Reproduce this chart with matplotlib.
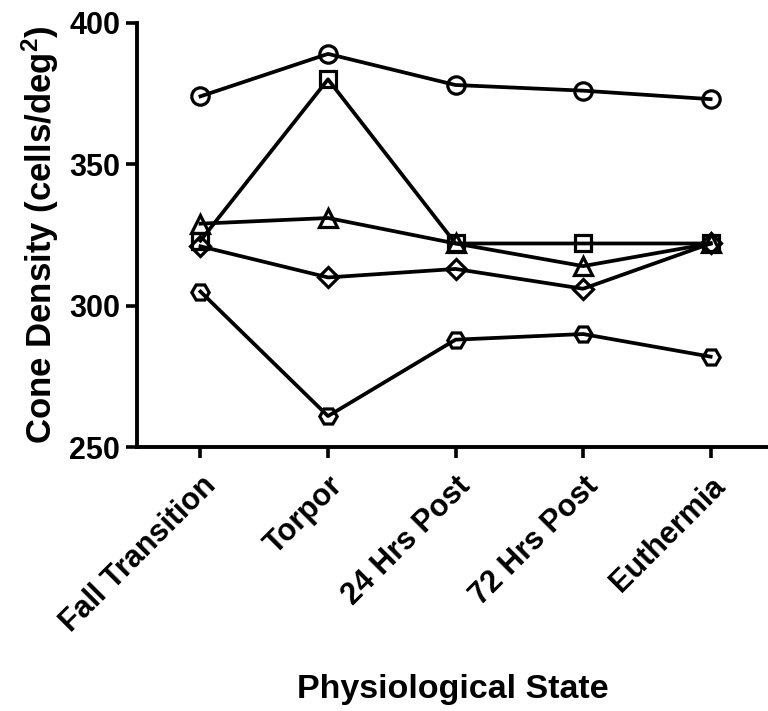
import matplotlib
matplotlib.use("Agg")
from matplotlib import pyplot as plt

# data
states = ["Fall Transition", "Torpor", "24 Hrs Post", "72 Hrs Post", "Euthermia"]
circle_vals = [374, 389, 378, 376, 373]
square_vals = [323, 380, 322, 322, 322]
triangle_vals = [329, 331, 322, 314, 322]
diamond_vals = [321, 310, 313, 306, 322]
hexagon_vals = [305, 261, 288, 290, 282]

plt.rcParams["font.family"] = ["Liberation Sans", "DejaVu Sans"]
plt.rcParams["font.weight"] = "bold"
plt.rcParams["mathtext.fontset"] = "custom"
plt.rcParams["mathtext.rm"] = "Liberation Sans:bold"
plt.rcParams["mathtext.bf"] = "Liberation Sans:bold"
plt.rcParams["mathtext.default"] = "bf"

fig = plt.figure(figsize=(7.68, 7.11), dpi=100)
ax = fig.add_axes([0.178, 0.371, 0.822, 0.597])

x = list(range(len(states)))
series = [
    (circle_vals, "o", 12.5),
    (hexagon_vals, "H", 12.5),
    (diamond_vals, "D", 10),
    (triangle_vals, "^", 12.5),
    (square_vals, "s", 12),
]
for vals, mk, ms in series:
    ax.plot(x, vals, color="black", lw=2.7, marker=mk, markersize=ms,
            markerfacecolor="none", markeredgecolor="black", markeredgewidth=2.3,
            clip_on=False)

ax.set_xlim(-0.5, 4.45)
ax.set_ylim(250, 400)
ax.set_yticks([250, 300, 350, 400])
ax.set_xticks(x)
ax.set_xticklabels(states, rotation=45, ha="right", rotation_mode="anchor")

for side in ["top", "right"]:
    ax.spines[side].set_visible(False)
for side in ["left", "bottom"]:
    ax.spines[side].set_linewidth(2.8)
ax.tick_params(axis="both", width=2.6, length=8, labelsize=22)
ax.tick_params(axis="x", pad=9)
ax.tick_params(axis="y", pad=4)
for lab in ax.get_xticklabels() + ax.get_yticklabels():
    lab.set_fontweight("bold")

ax.set_ylabel(r"Cone Density (cells/deg$^{2}$)", fontsize=25, fontweight="bold", labelpad=6)
fig.text(0.589, 0.03, "Physiological State", fontsize=24.5, fontweight="bold",
         ha="center", va="center")

fig.savefig("out.png", dpi=100)
